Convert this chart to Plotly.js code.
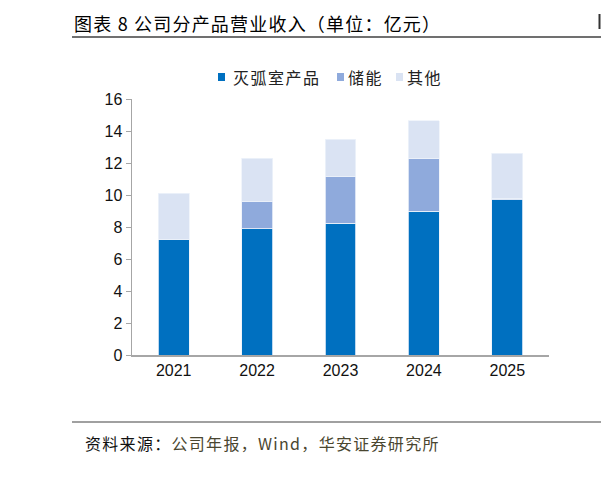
<!DOCTYPE html>
<html>
<head>
<meta charset="utf-8">
<script src="https://cdn.plot.ly/plotly-3.0.1.min.js"></script>
<style>html,body{margin:0;padding:0;background:#fff;}#chart{width:601px;height:480px;}</style>
</head>
<body>
<div id="chart"></div>
<script>
const years = ['2021', '2022', '2023', '2024', '2025'];
const arcChamber = [7.2, 7.9, 8.25, 9.0, 9.7];
const storage = [0, 1.7, 2.9, 3.3, 0.1];
const others = [2.9, 2.7, 2.35, 2.35, 2.8];
const seriesNames = ['灭弧室产品', '储能', '其他'];
const colors = ['#0070C0', '#8FAADC', '#DAE3F3'];

const W = 601, H = 480;
const L = 132, R = 549, T = 99, B = 355;
const px = x => (x - L) / (R - L);
const py = y => (B - y) / (B - T);
const cjk = '"Noto Sans CJK SC", sans-serif';

const data = [arcChamber, storage, others].map((vals, i) => ({
  type: 'bar',
  x: years,
  y: vals,
  name: seriesNames[i],
  marker: {color: colors[i], line: {color: '#EEF2FA', width: 0.8}},
  hoverinfo: 'skip'
}));

// custom legend (key square x-position, text x-position in pixels)
const legKeyX = [218, 337, 396];
const legTextX = [231, 346, 405];
const legY = 77;

const shapes = [
  {type: 'line', xref: 'paper', yref: 'paper', x0: px(72), x1: px(601), y0: py(37), y1: py(37),
   line: {color: '#404040', width: 1.5}},
  {type: 'line', xref: 'paper', yref: 'paper', x0: px(72), x1: px(601), y0: py(422), y1: py(422),
   line: {color: '#808080', width: 1.5}},
  {type: 'line', xref: 'paper', yref: 'paper', x0: px(599.5), x1: px(599.5), y0: py(14), y1: py(29),
   line: {color: '#333', width: 2}}
];
const annotations = [
  {xref: 'paper', yref: 'paper', x: px(72), y: py(23), xanchor: 'left', yanchor: 'middle',
   showarrow: false, text: '<span style="letter-spacing:1.2px">图表 8 公司分产品营业收入（单位：亿元）</span>',
   font: {family: cjk, size: 18, color: '#000'}},
  {xref: 'paper', yref: 'paper', x: px(83), y: py(443), xanchor: 'left', yanchor: 'middle',
   showarrow: false,
   text: '<span style="letter-spacing:1.3px">资料来源：<span style="color:#4A4630">公司年报，Wind，华安证券研究所</span></span>',
   font: {family: cjk, size: 16, color: '#111'}}
];
seriesNames.forEach((name, i) => {
  shapes.push({type: 'rect', xref: 'paper', yref: 'paper',
    x0: px(legKeyX[i]), x1: px(legKeyX[i] + 7), y0: py(legY - 4), y1: py(legY + 4),
    fillcolor: colors[i], line: {width: 0}});
  annotations.push({xref: 'paper', yref: 'paper', x: px(legTextX[i]), y: py(legY), xanchor: 'left', yanchor: 'middle',
    showarrow: false, text: '<span style="letter-spacing:1.5px">' + name + '</span>',
    font: {family: cjk, size: 16, color: '#222'}});
});

const layout = {
  width: W, height: H,
  margin: {l: L, r: W - R, t: T, b: H - B, pad: 0},
  barmode: 'stack',
  bargap: 0.63,
  paper_bgcolor: '#fff',
  plot_bgcolor: '#fff',
  showlegend: false,
  xaxis: {
    type: 'category', showline: true, linecolor: '#A6A6A6', linewidth: 1.5,
    ticks: '', tickfont: {family: 'Liberation Sans, Arial, sans-serif', size: 16, color: '#111'},
    showgrid: false, zeroline: false, fixedrange: true
  },
  yaxis: {
    range: [0, 16], dtick: 2, showline: true, linecolor: '#A6A6A6', linewidth: 1.5,
    ticks: 'outside', ticklen: 5, tickcolor: '#A6A6A6', tickwidth: 1,
    tickfont: {family: 'Liberation Sans, Arial, sans-serif', size: 16, color: '#111'},
    showgrid: false, zeroline: false, fixedrange: true
  },
  shapes: shapes,
  annotations: annotations
};

Plotly.newPlot('chart', data, layout, {staticPlot: true, displayModeBar: false});
</script>
</body>
</html>
